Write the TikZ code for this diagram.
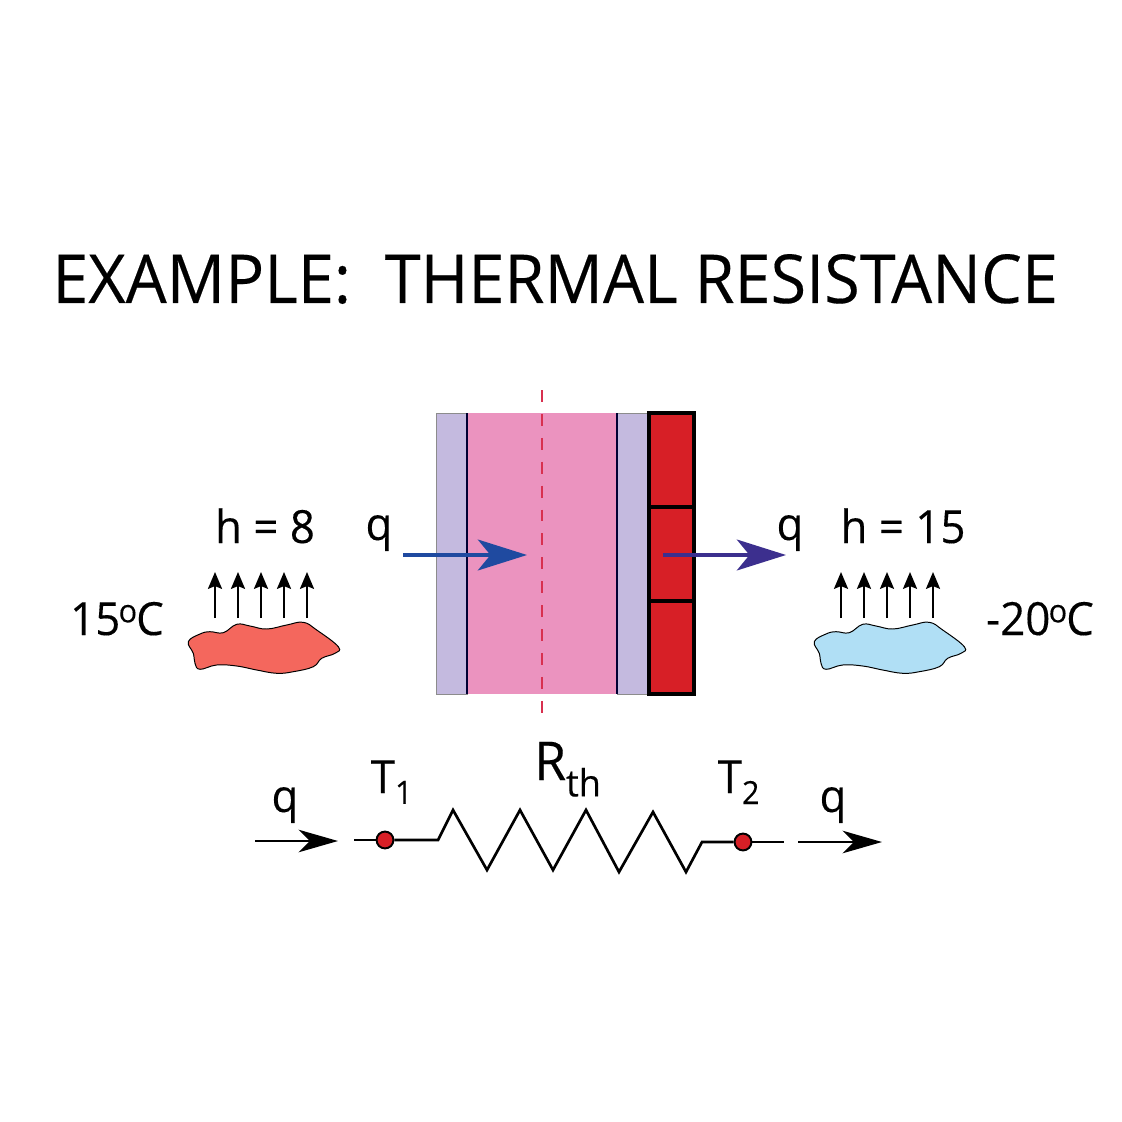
\documentclass[tikz,border=0pt]{standalone}
\usepackage{fontspec}
\setmainfont[FakeStretch=0.96, FakeBold=0.25]{Open Sans}
\usetikzlibrary{arrows.meta}

\definecolor{wallLav}{HTML}{C4BADF}
\definecolor{wallPink}{HTML}{EB93BF}
\definecolor{brickRed}{HTML}{D71F26}
\definecolor{hotBlob}{HTML}{F4675D}
\definecolor{coldBlob}{HTML}{B0DFF5}
\definecolor{fluxBlue}{HTML}{1F4AA0}
\definecolor{fluxNavy}{HTML}{3C2F8E}
\definecolor{midRed}{HTML}{D8304F}

\tikzset{
    label text/.style = {anchor = base, inner sep = 0pt, font = \fontsize{32.5}{33}\selectfont},
    big flux/.style = {line width = 2.2pt, -{Stealth[length = 35pt, width = 22pt, inset = 9pt]}},
    small flux/.style = {line width = 1.4pt, -{Stealth[length = 12pt, width = 10pt, inset = 2pt]}},
    circuit flux/.style = {line width = 1.9pt, -{Stealth[length = 28pt, width = 16pt, inset = 8pt]}},
    wire/.style = {line width = 1.9pt, line join = miter},
    temp dot/.style = {circle, draw = black, fill = brickRed, line width = 1.4pt,
        minimum size = 12pt, inner sep = 0pt},
    brick/.style = {draw = black, fill = brickRed, line width = 2.2pt}
}

\newcommand{\blobpath}{plot[smooth cycle, tension = 0.7] coordinates {
    (188.3, 641.7) (200.0, 634.0) (210.0, 631.7) (223.3, 632.7) (236.7, 624.3) (250.0, 626.0)
    (266.7, 629.0) (286.7, 625.0) (303.3, 622.3) (316.7, 630.0) (338.3, 646.7) (335.0, 653.3)
    (321.7, 658.3) (313.3, 666.7) (293.3, 671.7) (276.7, 673.3) (256.7, 670.0) (236.7, 666.0)
    (216.7, 665.0) (200.0, 669.3) (195.0, 663.3) (193.3, 653.3)}}
\newcommand{\degmark}{\kern-1.2pt\textsuperscript{o}\kern-1.2pt}

\begin{document}
\begin{tikzpicture}[x = 0.025cm, y = -0.025cm]
    \useasboundingbox (0, 0) rectangle (1122, 1122);

    % Title
    \node[anchor = base west, inner sep = 0pt, font = \fontsize{48}{48}\selectfont] (title)
    at (52, 303) {EXAMPLE:\ \ THERMAL RESISTANCE};

    % === Wall layers from left to right ===
    \filldraw[draw = black!45, fill = wallLav, line width = 0.5pt] (436, 413) rectangle (467, 694);
    \fill[wallPink] (467, 413) rectangle (617, 694);
    \filldraw[draw = black!45, fill = wallLav, line width = 0.5pt] (617, 413) rectangle (648, 694);
    \draw[line width = 1.0pt, draw = black!80!blue] (467, 413) -- (467, 694);
    \draw[line width = 1.0pt, draw = black!80!blue] (617, 413) -- (617, 694);

    % Bricks
    \filldraw[brick] (649, 413) rectangle (694, 507);
    \filldraw[brick] (649, 507) rectangle (694, 601);
    \filldraw[brick] (649, 601) rectangle (694, 694);

    % Mid plane
    \draw[midRed, line width = 1.2pt, dash pattern = on 8.5pt off 8.5pt] (542, 390) -- (542, 715);

    % Heat flow through the wall
    \coordinate (inA) at (403, 555);
    \coordinate (inB) at (527, 555);
    \coordinate (outA) at (663, 555);
    \coordinate (outB) at (786, 555);
    \draw[big flux, fluxBlue] (inA) -- (inB);
    \draw[big flux, fluxNavy] (outA) -- (outB);
    \node[label text] (qin) at (379, 540) {q};
    \node[label text] (qout) at (790, 540) {q};

    % === Left side ===
    \node[label text] (hleft) at (265, 543) {h = 8};
    \node[label text] (tleft) at (117, 635) {15\degmark C};
    \filldraw[fill = hotBlob, draw = black, line width = 0.7pt] \blobpath;
    \foreach \xa in {215, 238, 261, 284, 307} {
        \draw[small flux] (\xa, 618) -- (\xa, 572);
    }

    % === Right side ===
    \node[label text] (hright) at (903, 543) {h = 15};
    \node[label text] (tright) at (1040, 635) {-20\degmark C};
    \filldraw[shift = {(626, 0)}, fill = coldBlob, draw = black, line width = 0.7pt] \blobpath;
    \foreach \xa in {841, 864, 887, 910, 933} {
        \draw[small flux] (\xa, 618) -- (\xa, 572);
    }

    % === Thermal circuit ===
    \node[temp dot] (dotA) at (385, 840) {};
    \node[temp dot] (dotB) at (743, 842) {};
    \coordinate (wireA) at (354, 840);
    \coordinate (wireB) at (784, 842);
    \draw[wire] (wireA) -- (dotA);
    \draw[wire] (dotA) -- (438, 840) -- (453, 810) -- (487, 870) -- (520, 810) -- (553, 870)
    -- (586, 810) -- (619, 872) -- (653, 812) -- (686, 872) -- (702, 842) -- (dotB);
    \draw[wire] (dotB) -- (wireB);

    \coordinate (fluxA) at (255, 841);
    \coordinate (fluxB) at (338, 841);
    \coordinate (fluxC) at (798, 842);
    \coordinate (fluxD) at (882, 842);
    \draw[circuit flux] (fluxA) -- (fluxB);
    \draw[circuit flux] (fluxC) -- (fluxD);

    \node[label text] (qa) at (285, 812) {q};
    \node[label text] (qb) at (833, 812) {q};
    \node[label text] (ta) at (392, 793) {T\textsubscript{1}};
    \node[label text] (tb) at (739, 793) {T\textsubscript{2}};
    \node[label text, font = \fontsize{38}{38}\selectfont] (rth) at (568, 780) {R\textsubscript{th}};
\end{tikzpicture}
\end{document}
